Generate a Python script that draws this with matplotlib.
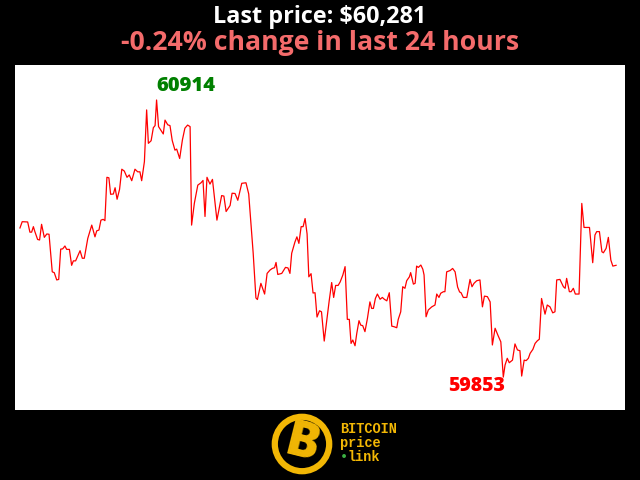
import matplotlib
matplotlib.use("Agg")
import matplotlib.pyplot as plt
from matplotlib.patches import Circle

# elapsed hours over the last 24h
hours = [0.00, 0.09, 0.31, 0.40, 0.47, 0.54, 0.60, 0.71, 0.79, 0.87, 0.98, 1.08, 1.17, 1.30, 1.38, 1.48,
         1.56, 1.64, 1.72, 1.81, 1.88, 1.99, 2.08, 2.15, 2.24, 2.42, 2.51, 2.59, 2.73, 2.89, 3.02, 3.09,
         3.18, 3.26, 3.35, 3.42, 3.50, 3.58, 3.65, 3.76, 3.83, 3.91, 4.01, 4.10, 4.20, 4.31, 4.40, 4.50,
         4.63, 4.74, 4.83, 4.90, 5.01, 5.10, 5.17, 5.28, 5.37, 5.44, 5.50, 5.58, 5.77, 5.84, 5.95, 6.04,
         6.13, 6.24, 6.31, 6.43, 6.54, 6.64, 6.75, 6.85, 6.91, 7.02, 7.16, 7.29, 7.37, 7.45, 7.53, 7.65,
         7.75, 7.93, 8.12, 8.21, 8.30, 8.46, 8.54, 8.66, 8.77, 8.93, 9.10, 9.21, 9.39, 9.50, 9.56, 9.70,
         9.85, 9.95, 10.07, 10.16, 10.25, 10.31, 10.38, 10.54, 10.69, 10.79, 10.87, 10.94, 11.07, 11.15, 11.23, 11.32,
         11.40, 11.48, 11.56, 11.63, 11.72, 11.80, 11.88, 11.96, 12.06, 12.14, 12.25, 12.36, 12.45, 12.55, 12.63, 12.71,
         12.81, 12.89, 13.00, 13.09, 13.18, 13.26, 13.33, 13.40, 13.49, 13.56, 13.65, 13.72, 13.80, 13.89, 13.99, 14.09,
         14.16, 14.23, 14.31, 14.39, 14.50, 14.59, 14.67, 14.77, 14.87, 14.97, 15.06, 15.17, 15.23, 15.33, 15.41, 15.50,
         15.57, 15.68, 15.73, 15.84, 15.91, 15.97, 16.04, 16.14, 16.22, 16.27, 16.35, 16.44, 16.58, 16.71, 16.78, 16.87,
         16.94, 17.05, 17.11, 17.18, 17.32, 17.42, 17.52, 17.62, 17.70, 17.76, 17.85, 17.99, 18.12, 18.20, 18.28, 18.39,
         18.52, 18.62, 18.70, 18.82, 18.93, 19.02, 19.13, 19.24, 19.36, 19.46, 19.53, 19.62, 19.70, 19.83, 19.93, 20.03,
         20.13, 20.20, 20.30, 20.38, 20.47, 20.54, 20.65, 20.74, 20.83, 20.91, 21.00, 21.14, 21.23, 21.34, 21.45, 21.54,
         21.61, 21.74, 21.88, 21.95, 22.01, 22.12, 22.19, 22.28, 22.36, 22.51, 22.62, 22.71, 22.93, 23.06, 23.15, 23.22,
         23.33, 23.43, 23.49, 23.60, 23.69, 23.79, 23.87, 24.00]

prices = [60424, 60448, 60447, 60408, 60408, 60429, 60410, 60380, 60378, 60438, 60388, 60401, 60400, 60256, 60253, 60225,
          60227, 60343, 60344, 60355, 60342, 60342, 60281, 60298, 60298, 60337, 60308, 60308, 60384, 60435, 60390, 60413,
          60416, 60454, 60457, 60452, 60618, 60616, 60553, 60554, 60578, 60534, 60572, 60649, 60642, 60618, 60627, 60605,
          60649, 60639, 60639, 60605, 60678, 60876, 60748, 60758, 60808, 60816, 60914, 60812, 60784, 60837, 60819, 60816,
          60759, 60722, 60726, 60690, 60761, 60806, 60818, 60812, 60435, 60518, 60588, 60597, 60606, 60468, 60618, 60592,
          60610, 60454, 60548, 60546, 60487, 60510, 60557, 60556, 60530, 60595, 60597, 60554, 60327, 60156, 60150, 60212,
          60171, 60250, 60263, 60269, 60272, 60292, 60246, 60250, 60273, 60271, 60250, 60327, 60370, 60390, 60365, 60429,
          60429, 60460, 60401, 60237, 60249, 60175, 60176, 60083, 60107, 60103, 59991, 60075, 60145, 60215, 60158, 60204,
          60204, 60217, 60244, 60276, 60074, 60074, 59982, 59995, 59973, 60020, 60069, 60052, 60050, 60027, 60078, 60141,
          60116, 60116, 60154, 60171, 60151, 60158, 60151, 60145, 60176, 60048, 60046, 60042, 60074, 60103, 60199, 60193,
          60222, 60237, 60253, 60209, 60212, 60278, 60273, 60282, 60266, 60244, 60084, 60110, 60122, 60129, 60171, 60158,
          60174, 60180, 60180, 60256, 60261, 60269, 60256, 60198, 60179, 60176, 60158, 60158, 60227, 60199, 60212, 60222,
          60225, 60122, 60163, 60161, 60141, 59976, 60040, 60014, 59988, 59853, 59899, 59925, 59908, 59918, 59980, 59957,
          59954, 59857, 59918, 59916, 59925, 59944, 59959, 59982, 59992, 59998, 60154, 60094, 60129, 60122, 60099, 60103,
          60225, 60227, 60199, 60193, 60231, 60180, 60180, 60193, 60171, 60171, 60518, 60426, 60426, 60291, 60397, 60410,
          60410, 60333, 60329, 60346, 60388, 60301, 60278, 60281]

last_price = 60281
change_pct = -0.24
title_line1 = "Last price: ${:,}".format(last_price)
title_line2 = "{:.2f}% change in last 24 hours".format(change_pct)

FONT = ["Open Sans", "DejaVu Sans"]

fig = plt.figure(figsize=(6.4, 4.8), dpi=100, facecolor="black")
ax = fig.add_axes([15 / 640, 1 - 410 / 480, 610 / 640, 345 / 480])
ax.set_facecolor("white")
ax.plot(hours, prices, color="red", linewidth=0.9)

hi = max(prices)
lo = min(prices)
hi_i = prices.index(hi)
lo_i = prices.index(lo)
ax.set_xlim(-0.2, 24.36)
ax.set_ylim(59727, 61048)
ax.set_xticks([])
ax.set_yticks([])
for s in ax.spines.values():
    s.set_visible(False)

ax.annotate(str(hi), (hours[hi_i], hi), xytext=(0, 3), textcoords="offset points",
            ha="left", va="bottom", color="green", fontsize=14.5, fontweight="heavy", family=FONT)
ax.annotate(str(lo), (hours[lo_i], lo), xytext=(1, 1), textcoords="offset points",
            ha="right", va="top", color="red", fontsize=14, fontweight="heavy", family=FONT)

fig.text(0.5, 1 - 23 / 480, title_line1, ha="center", va="baseline", color="white",
         fontsize=16.8, fontweight="bold", family=FONT)
fig.text(0.5, 1 - 50 / 480, title_line2, ha="center", va="baseline", color="#f46b6b",
         fontsize=19.2, fontweight="bold", family=FONT)

# logo
LOGO = "#f2b705"
lax = fig.add_axes([270 / 640, 1 - 476 / 480, 64 / 640, 64 / 480])
lax.set_xlim(-1, 1)
lax.set_ylim(-1, 1)
lax.set_aspect("equal")
lax.axis("off")
lax.add_patch(Circle((0, 0), 0.85, facecolor="black", edgecolor=LOGO, linewidth=4.5))
lax.text(0.0, -0.02, "B", ha="center", va="center", color=LOGO, fontsize=36,
         fontweight="heavy", rotation=-14, family=FONT)

MONO = ["Liberation Mono", "DejaVu Sans Mono"]
fig.text(340 / 640, 1 - 429 / 480, "BITCOIN", ha="left", va="center", color=LOGO,
         fontsize=9.8, fontweight="bold", family=MONO)
fig.text(340 / 640, 1 - 443 / 480, "price", ha="left", va="center", color=LOGO,
         fontsize=9.8, fontweight="bold", family=MONO)
fig.text(340 / 640, 1 - 457 / 480, "\u2022", ha="left", va="center", color="#3cb043",
         fontsize=9.8, fontweight="bold", family=MONO)
fig.text(348 / 640, 1 - 457 / 480, "link", ha="left", va="center", color=LOGO,
         fontsize=9.8, fontweight="bold", family=MONO)

fig.savefig("out.png", dpi=100, facecolor="black")
